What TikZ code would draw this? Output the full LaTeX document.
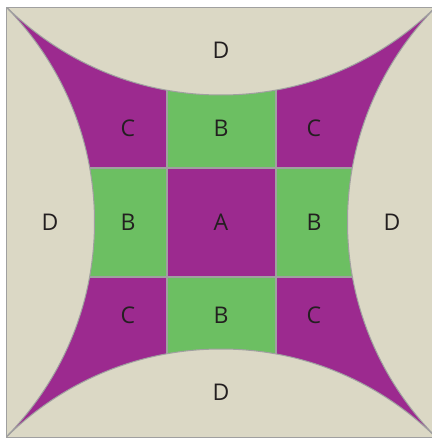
\documentclass[tikz,border=0pt]{standalone}
\usepackage{fontspec}
\setmainfont{Open Sans}
\definecolor{beige}{HTML}{DBD8C5}
\definecolor{pur}{HTML}{9C2A8F}
\definecolor{grn}{HTML}{6CBF62}
\definecolor{linegray}{HTML}{A0A0A0}
\definecolor{txt}{HTML}{231F20}
\begin{document}
\begin{tikzpicture}[x=1pt,y=-1pt,
  lbl/.style={font=\fontsize{23}{23}\selectfont, text=txt, inner sep=0pt},
  gridline/.style={draw=linegray, line width=1.3pt},
  dregion/.style={fill=beige, draw=linegray, line width=1pt}]
\useasboundingbox (0,0) rectangle (431,439);
\begin{scope}
  \clip (6,7) rectangle (436,437);
  \fill[pur] (6,7) rectangle (436,437);
  \fill[grn] (167,7) rectangle (276,168);
  \fill[grn] (6,168) rectangle (167,277);
  \fill[grn] (276,168) rectangle (436,277);
  \fill[grn] (167,277) rectangle (276,437);
  \draw[gridline] (167,7) -- (167,437);
  \draw[gridline] (276,7) -- (276,437);
  \draw[gridline] (6,168) -- (436,168);
  \draw[gridline] (6,277) -- (436,277);
  \path[dregion] (221,-210.4) circle[radius=305.4pt];
  \path[dregion] (221,654.4) circle[radius=305.4pt];
  \path[dregion] (-210.9,222) circle[radius=305.4pt];
  \path[dregion] (652.9,222) circle[radius=305.4pt];
\end{scope}
\draw[linegray, line width=1pt] (6,7) rectangle (436,437);
\node[lbl] (dtop) at (221,50) {D};
\node[lbl] (dleft) at (50,222) {D};
\node[lbl] (dright) at (392,222) {D};
\node[lbl] (dbottom) at (221,392) {D};
\node[lbl] (ctl) at (128,128) {C};
\node[lbl] (ctr) at (314,128) {C};
\node[lbl] (cbl) at (128,315) {C};
\node[lbl] (cbr) at (314,315) {C};
\node[lbl] (btop) at (221,128) {B};
\node[lbl] (bleft) at (128,222) {B};
\node[lbl] (bright) at (314,222) {B};
\node[lbl] (bbottom) at (221,315) {B};
\node[lbl] (a) at (221,222) {A};
\end{tikzpicture}
\end{document}
